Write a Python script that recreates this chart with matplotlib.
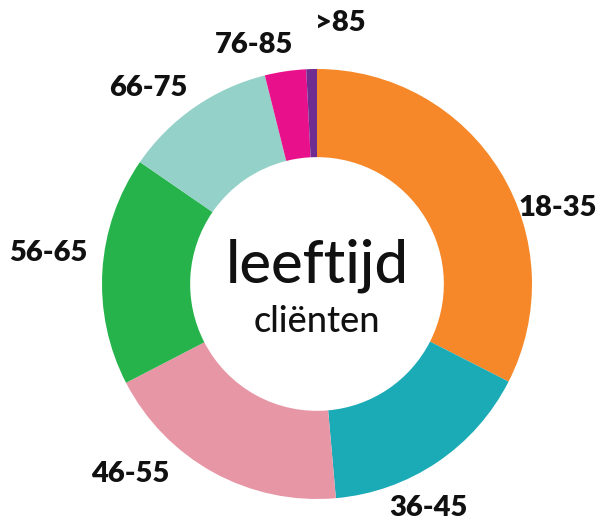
import numpy as np
import matplotlib
matplotlib.use("Agg")
import matplotlib.pyplot as plt

# leeftijd clienten, share per age group (%)
groups = ["18-35", "36-45", "46-55", "56-65", "66-75", "76-85", ">85"]
shares = [32.5, 16.1, 18.8, 17.2, 11.5, 3.1, 0.8]
colors = ["#F6882A", "#1BABB6", "#E796A5", "#26B34B", "#94D1C8", "#E9108C", "#6F2C91"]

# label placement (angle in degrees, radius in units of outer radius)
label_pos = [(17.5, 1.175), (-63.6, 1.163), (-134.5, 1.24), (173.4, 1.26),
             (130.8, 1.204), (104.8, 1.15), (85.0, 1.219)]

W, H, DPI = 613, 523, 100
cx, cy, R = 317, 284, 215

fig = plt.figure(figsize=(W / DPI, H / DPI), dpi=DPI)
ax = fig.add_axes([0, 0, 1, 1])
ax.pie(shares, colors=colors, startangle=90, counterclock=False, radius=1,
       wedgeprops=dict(width=0.41, linewidth=0))
ax.set_aspect("equal")
ax.set_xlim(-cx / R, (W - cx) / R)
ax.set_ylim(-(H - cy) / R, cy / R)
ax.axis("off")

for name, (ang, r) in zip(groups, label_pos):
    a = np.deg2rad(ang)
    ax.text(r * np.cos(a), r * np.sin(a), name, ha="center", va="center",
            fontsize=21, fontweight="heavy", family="Lato", color="#111111")

ax.text(0, 0.005, "leeftijd", ha="center", va="baseline", fontsize=43,
        fontweight="medium", family="Lato", color="#111111")
ax.text(0, -0.223, "cliënten", ha="center", va="baseline", fontsize=26,
        fontweight="medium", family="Lato", color="#111111")

plt.savefig("out.png", dpi=DPI)
